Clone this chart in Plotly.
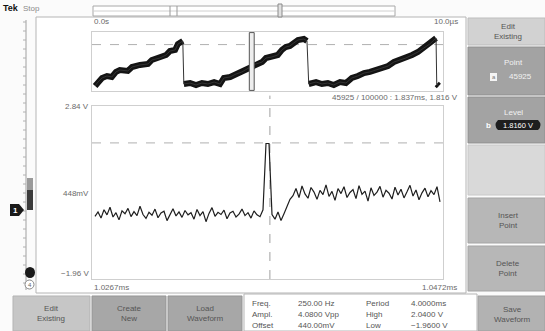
import plotly.graph_objects as go

W, H = 545, 331

# overview record: time in us, level in V (three ramp segments)
ov_t1 = [0.09, 0.17, 0.29, 0.43, 0.57, 0.69, 0.80, 1.03, 1.15, 1.38, 1.61, 1.72, 1.95, 2.13, 2.24, 2.39, 2.47, 2.59, 2.61]
ov_v1 = [-1.55, -1.23, -0.90, -0.74, -0.82, -0.41, -0.25, -0.33, -0.01, 0.16, 0.24, 0.56, 0.72, 0.97, 1.29, 1.38, 1.86, 2.03, 2.11]
ov_t2 = [2.64, 2.82, 2.99, 3.16, 3.33, 3.51, 3.68, 3.79, 3.97, 4.14, 4.31, 4.48, 4.60, 4.71, 4.89, 5.00, 5.17, 5.34,
         5.46, 5.57, 5.69, 5.80, 5.92, 6.09, 6.18]
ov_v2 = [-1.39, -1.31, -1.47, -1.31, -1.39, -1.23, -1.39, -0.90, -0.82, -0.58, -0.41, -0.09, 0.07, 0.24, 0.40, 0.72,
         0.81, 0.97, 1.38, 1.62, 1.70, 1.95, 2.19, 2.27, 2.11]
ov_t3 = [6.23, 6.44, 6.61, 6.78, 6.95, 7.13, 7.30, 7.47, 7.64, 7.82, 7.99, 8.16, 8.33, 8.51, 8.68, 8.85, 9.02, 9.20,
         9.37, 9.54, 9.71, 9.83, 9.89]
ov_v3 = [-1.39, -1.23, -1.39, -1.31, -1.47, -1.23, -1.31, -0.90, -0.74, -0.50, -0.41, -0.25, -0.09, 0.07, 0.40, 0.56,
         0.72, 0.97, 1.21, 1.54, 1.86, 2.19, 2.35]
ov_t4 = [9.91, 9.97]
ov_v4 = [-1.39, -1.55]

# zoomed window, one value per sample (V)
zoom_v = [-0.22, -0.10, -0.27, -0.04, -0.18, 0.03, -0.24, -0.12, -0.32, -0.07,
          -0.15, 0.00, -0.23, -0.09, -0.20, 0.06, -0.17, -0.28, -0.11, -0.19,
          -0.02, -0.26, -0.13, -0.08, -0.34, -0.16, -0.01, -0.21, -0.10, -0.25,
          -0.06, -0.18, -0.12, -0.30, -0.03, -0.20, -0.09, -0.37, -0.14, 0.02,
          -0.22, -0.11, -0.17, -0.05, -0.29, -0.13, -0.08, -0.24, -0.16, -0.02,
          -0.20, -0.12, -0.27, -0.07, -0.18, -0.23,
          -0.04, 1.80, 1.80, -0.17, -0.30, -0.10, -0.34, -0.15, 0.05, 0.25,
          0.35, 0.55, 0.30, 0.62, 0.40, 0.28, 0.58, 0.45, 0.25, 0.50,
          0.38, 0.65, 0.33, 0.47, 0.22, 0.55, 0.41, 0.60, 0.30, 0.44,
          0.52, 0.27, 0.63, 0.39, 0.48, 0.20, 0.57, 0.36, 0.45, 0.61,
          0.31, 0.50, 0.42, 0.26, 0.59, 0.37, 0.53, 0.29, 0.46, 0.64,
          0.34, 0.51, 0.24, 0.43, 0.56, 0.32, 0.49, 0.38, 0.60, 0.18]
zoom_idx = list(range(len(zoom_v)))

level = 1.816
cursor_point = 45925
record_len = 100000
record_us = 10.0
cursor_us = cursor_point / record_len * record_us
cursor_idx = 58.3

v_top, v_bot = 2.84, -1.96
FONT = "Liberation Sans"


def X(p):
    return p / W


def Y(p):
    return 1 - p / H


fig = go.Figure()


def box(x0, y0, x1, y1, fill, line=None, layer="below", lw=1):
    fig.add_shape(type="rect", xref="paper", yref="paper", x0=X(x0), x1=X(x1), y0=Y(y1), y1=Y(y0),
                  fillcolor=fill, line=dict(color=line or fill, width=lw if line else 0), layer=layer)


def seg(x0, y0, x1, y1, color="#999", width=1, layer="below"):
    fig.add_shape(type="line", xref="paper", yref="paper", x0=X(x0), x1=X(x1), y0=Y(y0), y1=Y(y1),
                  line=dict(color=color, width=width), layer=layer)


def txt(x, y, s, anchor="left", size=8, color="#6a6a6a", bgcolor=None):
    fig.add_annotation(xref="paper", yref="paper", x=X(x), y=Y(y), text=s, showarrow=False,
                       xanchor=anchor, yanchor="middle", font=dict(family=FONT, size=size, color=color),
                       bgcolor=bgcolor, borderpad=0)


# overview traces
for t, v in [(ov_t1, ov_v1), (ov_t2, ov_v2), (ov_t3, ov_v3), (ov_t4, ov_v4)]:
    fig.add_trace(go.Scatter(x=t, y=v, mode="lines", line=dict(color="#141414", width=6),
                             hoverinfo="skip", xaxis="x", yaxis="y"))
fig.add_trace(go.Scatter(x=ov_t1 + ov_t2 + ov_t3 + ov_t4, y=ov_v1 + ov_v2 + ov_v3 + ov_v4, mode="lines",
                         line=dict(color="#333", width=1), hoverinfo="skip", xaxis="x", yaxis="y"))

# zoom trace
fig.add_trace(go.Scatter(x=zoom_idx, y=zoom_v, mode="lines", line=dict(color="#1e1e1e", width=1.2),
                         hoverinfo="skip", xaxis="x2", yaxis="y2"))

ax = dict(showgrid=False, zeroline=False, showticklabels=False, ticks="", showline=True, mirror=True,
          linecolor="#cfcfcf", linewidth=1, fixedrange=True)

# background chrome
box(0, 0, 545, 331, "#fbfbfb")
box(36, 17, 466, 293, "#ffffff", line="#b5b5b5")

# right column buttons
box(468, 18, 545, 45, "#d2d2d2", line="#bdbdbd")
box(468, 47, 545, 95, "#a3a3a3", line="#8f8f8f")
box(468, 97, 545, 143, "#a3a3a3", line="#8f8f8f")
box(468, 145, 545, 195, "#d9d9d9", line="#c8c8c8")
box(468, 198, 545, 243, "#b7b7b7", line="#a5a5a5")
box(468, 246, 545, 291, "#b7b7b7", line="#a5a5a5")
box(478, 296, 545, 331, "#b2b2b2", line="#a0a0a0")

# bottom buttons + info box
box(13, 296, 90, 331, "#c6c6c6", line="#b3b3b3")
box(92, 296, 166, 331, "#a7a7a7", line="#959595")
box(168, 296, 242, 331, "#a7a7a7", line="#959595")
box(244, 294, 477, 331, "#ffffff", line="#b5b5b5")

# top record bar
box(93, 6, 395, 16, "#ffffff", line="#a8a8a8")
seg(93, 11, 395, 11, "#d0d0d0")
seg(170, 6, 170, 16, "#999")
seg(177, 6, 177, 16, "#999")
box(278, 4, 282, 17, "#e0e0e0", line="#8a8a8a")

# left ruler
seg(26, 20, 26, 290, "#a0a0a0")
for yy in range(22, 290, 9):
    seg(23, yy, 26, yy, "#b0b0b0")
box(27, 178, 33, 192, "#9a9a9a")
box(27, 190, 33, 210, "#3c3c3c")
fig.add_shape(type="path", xref="paper", yref="paper", layer="above",
              path=f"M {X(10)},{Y(204)} L {X(19)},{Y(204)} L {X(24)},{Y(210)} L {X(19)},{Y(216)} "
                   f"L {X(10)},{Y(216)} Z", fillcolor="#1a1a1a", line=dict(width=0))
txt(15, 210, "<b>1</b>", "center", 8, "#ffffff")
fig.add_shape(type="circle", xref="paper", yref="paper", x0=X(25), x1=X(35), y0=Y(278), y1=Y(267),
              fillcolor="#1a1a1a", line=dict(width=0), layer="above")
fig.add_shape(type="circle", xref="paper", yref="paper", x0=X(25), x1=X(34), y0=Y(289), y1=Y(280),
              fillcolor="#ffffff", line=dict(color="#888", width=1), layer="above")
txt(29.5, 284.5, "4", "center", 6, "#666")

# level line and cursors
for yref in ["y", "y2"]:
    xr = "x domain" if yref == "y" else "x2 domain"
    fig.add_shape(type="line", xref=xr, yref=yref, x0=0, x1=1, y0=level, y1=level,
                  line=dict(color="#b0b0b0", width=1, dash="dash"), layer="below")
fig.add_shape(type="line", xref="x2", yref="y2 domain", x0=cursor_idx, x1=cursor_idx, y0=0, y1=1.06,
              line=dict(color="#a0a0a0", width=1, dash="dash"), layer="below")
fig.add_shape(type="rect", xref="x", yref="y domain", x0=cursor_us - 0.07, x1=cursor_us + 0.07, y0=0.01, y1=0.99,
              fillcolor="#eeeeee", line=dict(color="#555", width=1), layer="above")

# texts
txt(2, 8, "<b>Tek</b>", "left", 9, "#111")
txt(22, 8, "Stop", "left", 8, "#8a8a8a")
txt(93, 21, "0.0s")
txt(459, 21, "10.0µs", "right")
txt(459, 98, f"{cursor_point} / {record_len} : 1.837ms, {level:.3f} V", "right")
txt(90, 106, "2.84 V", "right")
txt(90, 193, "448mV", "right")
txt(90, 273, "−1.96 V", "right")
txt(93, 287, "1.0267ms")
txt(458, 287, "1.0472ms", "right")

txt(508, 31, "Edit<br>Existing", "center", 8, "#555")
txt(513, 62, "Point", "center", 8, "#f2f2f2")
box(490, 73, 497, 81, "#f4f4f4", layer="above")
txt(493.5, 77, "a", "center", 6, "#777")
txt(520, 77, "45925", "center", 8, "#f2f2f2")
txt(513, 113, "Level", "center", 8, "#f2f2f2")
txt(488, 125, "<b>b</b>", "center", 8, "#ffffff")
fig.add_shape(type="path", xref="paper", yref="paper", layer="above",
              path=f"M {X(498)},{Y(120)} L {X(538)},{Y(120)} Q {X(543)},{Y(125)} {X(538)},{Y(130)} "
                   f"L {X(498)},{Y(130)} Q {X(493)},{Y(125)} {X(498)},{Y(120)} Z",
              fillcolor="#1e1e1e", line=dict(width=0))
txt(518, 125, f"{level:.4f} V", "center", 7.5, "#ffffff")
txt(508, 220, "Insert<br>Point", "center", 8, "#555")
txt(508, 268, "Delete<br>Point", "center", 8, "#555")
txt(512, 314, "Save<br>Waveform", "center", 8, "#555")
txt(51, 313, "Edit<br>Existing", "center", 8, "#555")
txt(129, 313, "Create<br>New", "center", 8, "#555")
txt(205, 313, "Load<br>Waveform", "center", 8, "#555")

info_left = [("Freq.", "250.00 Hz"), ("Ampl.", "4.0800 Vpp"), ("Offset", "440.00mV")]
info_right = [("Period", "4.0000ms"), ("High", "2.0400 V"), ("Low", "−1.9600 V")]
for i, (k, v) in enumerate(info_left):
    txt(251, 303 + i * 11, k, "left", 8, "#555")
    txt(297, 303 + i * 11, v, "left", 8, "#555")
for i, (k, v) in enumerate(info_right):
    txt(365, 303 + i * 11, k, "left", 8, "#555")
    txt(410, 303 + i * 11, v, "left", 8, "#555")

fig.update_layout(
    width=W, height=H, margin=dict(l=0, r=0, t=0, b=0),
    paper_bgcolor="#fbfbfb", plot_bgcolor="rgba(0,0,0,0)", showlegend=False,
    xaxis=dict(ax, domain=[X(92), X(443)], range=[0, 10.09], anchor="y"),
    yaxis=dict(ax, domain=[Y(91), Y(32)], range=[v_bot, v_top], anchor="x"),
    xaxis2=dict(ax, domain=[X(92), X(443)], range=[-1, 116], anchor="y2"),
    yaxis2=dict(ax, domain=[Y(279), Y(106)], range=[v_bot, v_top], anchor="x2"),
)

fig.write_html("out.html", config={"displayModeBar": False},
               post_script="document.body.style.margin='0';document.body.style.overflow='hidden';")
